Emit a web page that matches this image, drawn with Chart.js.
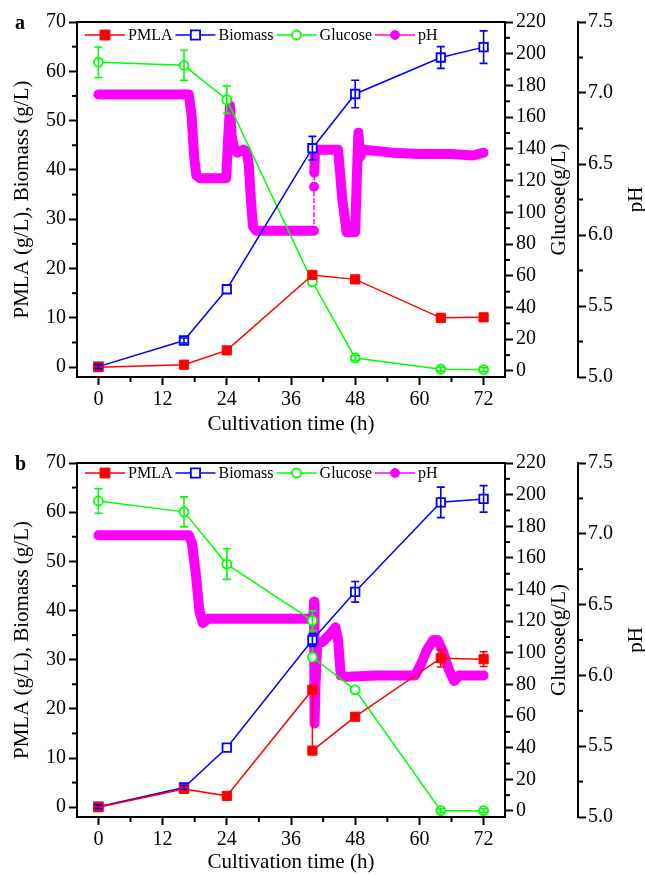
<!DOCTYPE html>
<html>
<head>
<meta charset="utf-8">
<script src="https://cdn.jsdelivr.net/npm/chart.js@4/dist/chart.umd.min.js"></script>
<style>
  body { margin: 0; background: #fff; }
  canvas { display: block; }
</style>
</head>
<body>
<canvas id="chartA" width="645" height="438"></canvas>
<canvas id="chartB" width="645" height="438"></canvas>
<script>
// axis ticks
const xTicks = [0, 12, 24, 36, 48, 60, 72];
const xMinor = [6, 18, 30, 42, 54, 66];
const leftTicks = [0, 10, 20, 30, 40, 50, 60, 70];
const leftMinor = [5, 15, 25, 35, 45, 55, 65];
const glucoseTicks = [0, 20, 40, 60, 80, 100, 120, 140, 160, 180, 200, 220];
const glucoseMinor = [10, 30, 50, 70, 90, 110, 130, 150, 170, 190, 210];
const phTicks = [5.0, 5.5, 6.0, 6.5, 7.0, 7.5];
const phMinor = [5.25, 5.75, 6.25, 6.75, 7.25];
const seriesNames = ['PMLA', 'Biomass', 'Glucose', 'pH'];

// panel a
const timeA = [0, 16, 24, 40, 48, 64, 72];
const pmlaA = [0, 0.5, 3.4, 18.7, 17.8, 10.0, 10.1];
const pmlaErrA = [0, 0, 0, 0, 0, 0, 0];
const biomassA = [0.1, 5.4, 15.8, 44.4, 55.4, 62.8, 64.9];
const biomassErrA = [0.4, 0.5, 0, 2.4, 2.8, 2.2, 3.3];
const glucoseA = [194.6, 192.7, 171.0, 56.2, 8.2, 1.1, 0.9];
const glucoseErrA = [9.6, 9.5, 8.6, 0, 1.5, 1.2, 1.2];
const phTimeA = [0, 16.9, 17.4, 17.9, 18.3, 19.0, 23.9, 24.2, 24.6, 24.9, 25.3, 26.0, 27.0, 27.7, 28.1, 28.5, 28.9, 29.5,
  35.0, 40.3, 40.3, 40.35, 40.35, 40.5, 44.8, 45.6, 46.4, 48.0, 48.3, 48.6, 48.9, 49.6, 55.0, 60.0, 66.0, 70.0, 72.0];
const phA = [6.99, 6.99, 6.85, 6.55, 6.42, 6.40, 6.40, 6.65, 6.91, 6.70, 6.62, 6.58, 6.60, 6.59, 6.50, 6.25, 6.06, 6.03,
  6.03, 6.03, 6.34, 6.34, 6.44, 6.60, 6.60, 6.25, 6.02, 6.02, 6.40, 6.72, 6.55, 6.60, 6.58, 6.57, 6.57, 6.56, 6.58];

// panel b
const pmlaTimeB = [0, 16, 24, 40, 40, 48, 64, 72];
const pmlaB = [0, 3.7, 2.3, 23.9, 11.5, 18.4, 30.3, 30.1];
const pmlaErrB = [0, 0.4, 0, 0, 0, 0, 1.8, 1.5];
const biomassTimeB = [0, 16, 24, 40, 48, 64, 72];
const biomassB = [0.1, 4.0, 12.1, 34.0, 43.8, 62.0, 62.7];
const biomassErrB = [0.4, 0.4, 0, 1.3, 2.1, 3.1, 2.7];
const glucoseTimeB = [0, 16, 24, 40, 40, 48, 64, 72];
const glucoseB = [196.0, 189.1, 156.1, 120.3, 97.2, 76.6, 0.2, 0.2];
const glucoseErrB = [7.8, 9.5, 9.7, 6.3, 0, 0, 1.2, 1.2];
const phTimeB = [0, 16.9, 17.5, 18.2, 18.9, 19.5, 20.5, 30.0, 40.2, 40.3, 40.35, 40.45, 40.6, 40.9, 42.0, 43.5, 44.3, 44.8,
  45.3, 46.5, 52.0, 59.2, 60.3, 61.4, 62.6, 63.4, 64.4, 65.5, 66.5, 67.4, 69.0, 72.0];
const phB = [6.99, 6.99, 6.93, 6.72, 6.45, 6.37, 6.40, 6.40, 6.40, 6.52, 6.28, 5.66, 5.95, 6.22, 6.24, 6.30, 6.34, 6.25,
  6.00, 5.99, 6.00, 6.00, 6.08, 6.18, 6.25, 6.25, 6.17, 6.04, 5.96, 6.00, 6.00, 6.00];

const FONT = '"Liberation Serif", "Times New Roman", serif';
Chart.defaults.font.family = FONT;
Chart.defaults.color = '#000';

const RED = '#FF0000', BLUE = '#0000FF', GREEN = '#00FF00', MAGENTA = '#FF00FF';

const toXY = (t, v) => t.map((x, i) => ({ x, y: v[i] }));
const setTicks = list => s => { s.ticks = list.map(value => ({ value })); };
const fixSize = (w, h) => s => {
  if (w !== null) s.width = w;
  if (h !== null) s.height = h;
  s.paddingTop = 0; s.paddingBottom = 0; s.paddingLeft = 0; s.paddingRight = 0;
};
const tickGrid = { drawOnChartArea: false, drawTicks: true, tickLength: 8, tickWidth: 2, tickColor: '#000' };
const axisBorder = { display: true, color: '#000', width: 2 };

function buildChart(id, p) {
  const minors = { x: xMinor, y: leftMinor, yG: glucoseMinor, yP: phMinor };

  const decor = {
    id: 'decor',
    afterDatasetsDraw(chart) {
      const ctx = chart.ctx;
      // error bars
      chart.data.datasets.forEach((ds, i) => {
        if (!ds.errors) return;
        const meta = chart.getDatasetMeta(i);
        const ys = chart.scales[meta.yAxisID];
        ctx.save();
        ctx.strokeStyle = ds.borderColor;
        ctx.lineWidth = 1.6;
        meta.data.forEach((pt, j) => {
          const e = ds.errors[j];
          if (!e) return;
          const v = ds.data[j].y;
          const t = ys.getPixelForValue(v + e), b = ys.getPixelForValue(v - e);
          ctx.beginPath();
          ctx.moveTo(pt.x, t); ctx.lineTo(pt.x, b);
          ctx.moveTo(pt.x - 4, t); ctx.lineTo(pt.x + 4, t);
          ctx.moveTo(pt.x - 4, b); ctx.lineTo(pt.x + 4, b);
          ctx.stroke();
        });
        ctx.restore();
      });
    },
    afterDraw(chart) {
      const ctx = chart.ctx, area = chart.chartArea;
      ctx.save();
      // frame
      ctx.strokeStyle = '#000';
      ctx.lineWidth = 2;
      ctx.strokeRect(area.left, area.top, area.right - area.left, area.bottom - area.top);
      // minor ticks
      Object.keys(minors).forEach(key => {
        const s = chart.scales[key];
        minors[key].forEach(v => {
          const px = s.getPixelForValue(v);
          ctx.beginPath();
          if (s.isHorizontal()) { ctx.moveTo(px, s.top); ctx.lineTo(px, s.top + 5); }
          else if (s.position === 'left') { ctx.moveTo(s.right, px); ctx.lineTo(s.right - 5, px); }
          else { ctx.moveTo(s.left, px); ctx.lineTo(s.left + 5, px); }
          ctx.stroke();
        });
      });
      // right axis titles, reading upward
      ctx.fillStyle = '#000';
      ctx.font = '21px ' + FONT;
      ctx.textAlign = 'center';
      ctx.textBaseline = 'middle';
      const midY = (area.top + area.bottom) / 2;
      [['yG', 'Glucose(g/L)', 54], ['yP', 'pH', 58]].forEach(([key, text, dx]) => {
        ctx.save();
        ctx.translate(chart.scales[key].left + dx, midY);
        ctx.rotate(-Math.PI / 2);
        ctx.fillText(text, 0, 0);
        ctx.restore();
      });
      // panel tag
      ctx.font = 'bold 20px ' + FONT;
      ctx.textAlign = 'left';
      ctx.textBaseline = 'alphabetic';
      ctx.fillText(p.tag, 15, area.top + 7);
      // legend inside the plot
      ctx.font = '16px ' + FONT;
      ctx.textBaseline = 'middle';
      let x = area.left + 8;
      const y = area.top + p.legendDy;
      chart.data.datasets.forEach(ds => {
        ctx.strokeStyle = ds.borderColor;
        ctx.lineWidth = 1.5;
        ctx.setLineDash([]);
        ctx.beginPath(); ctx.moveTo(x, y); ctx.lineTo(x + 40, y); ctx.stroke();
        ctx.fillStyle = ds.pointBackgroundColor;
        ctx.lineWidth = ds.pointBorderWidth || 1;
        Chart.helpers.drawPoint(ctx, { pointStyle: ds.pointStyle, radius: ds.legendRadius, borderWidth: 1 }, x + 20, y);
        x += 43;
        ctx.fillStyle = '#000';
        ctx.fillText(ds.label, x, y + 1);
        x += ctx.measureText(ds.label).width + 3;
      });
      ctx.restore();
    }
  };

  return new Chart(document.getElementById(id), {
    type: 'line',
    data: {
      datasets: [
        { label: seriesNames[0], data: toXY(p.pmlaTime, p.pmla), errors: p.pmlaErr, yAxisID: 'y',
          borderColor: RED, backgroundColor: RED, pointBackgroundColor: RED, pointBorderColor: RED,
          pointStyle: 'rect', pointRadius: 6.5, pointBorderWidth: 1, borderWidth: 1.5, legendRadius: 7 },
        { label: seriesNames[1], data: toXY(p.biomassTime, p.biomass), errors: p.biomassErr, yAxisID: 'y',
          borderColor: BLUE, backgroundColor: BLUE, pointBackgroundColor: '#fff', pointBorderColor: BLUE,
          pointStyle: 'rect', pointRadius: 6, pointBorderWidth: 1.8, borderWidth: 1.5, legendRadius: 6.5 },
        { label: seriesNames[2], data: toXY(p.glucoseTime, p.glucose), errors: p.glucoseErr, yAxisID: 'yG',
          borderColor: GREEN, backgroundColor: GREEN, pointBackgroundColor: '#fff', pointBorderColor: GREEN,
          pointStyle: 'circle', pointRadius: 4.5, pointBorderWidth: 1.8, borderWidth: 1.5, legendRadius: 4.5 },
        { label: seriesNames[3], data: toXY(p.phTime, p.ph), yAxisID: 'yP',
          borderColor: MAGENTA, backgroundColor: MAGENTA, pointBackgroundColor: MAGENTA,
          pointStyle: 'circle', pointRadius: 0, borderWidth: 10, legendRadius: 4.5,
          borderCapStyle: 'round', borderJoinStyle: 'round',
          segment: {
            borderWidth: c => c.p0.parsed.x === c.p1.parsed.x ? 1.5 : undefined,
            borderDash: c => c.p0.parsed.x === c.p1.parsed.x ? [4, 3] : undefined
          } }
      ]
    },
    options: {
      responsive: false,
      animation: false,
      devicePixelRatio: 1,
      layout: { padding: { top: p.padTop, left: 0, right: 0, bottom: 0 } },
      elements: { line: { tension: 0 } },
      plugins: { legend: { display: false }, tooltip: { enabled: false } },
      scales: {
        x: {
          type: 'linear', position: 'bottom', min: -4, max: 76,
          afterBuildTicks: setTicks(xTicks), afterFit: fixSize(null, p.axisHeight),
          grid: tickGrid, border: axisBorder,
          ticks: { font: { size: 20 }, padding: 3, maxRotation: 0, autoSkip: false },
          title: { display: true, text: 'Cultivation time (h)', font: { size: 21 }, padding: { top: 0, bottom: 1 } }
        },
        y: {
          type: 'linear', position: 'left', min: -2, max: 70,
          afterBuildTicks: setTicks(leftTicks), afterFit: fixSize(77, null),
          grid: tickGrid, border: axisBorder,
          ticks: { font: { size: 20 }, padding: 3 },
          title: { display: true, text: 'PMLA (g/L), Biomass (g/L)', font: { size: 21 }, padding: { top: 10, bottom: 0 } }
        },
        yG: {
          type: 'linear', position: 'right', min: -3.8, max: 220,
          afterBuildTicks: setTicks(glucoseTicks), afterFit: fixSize(73, null),
          grid: tickGrid, border: axisBorder,
          ticks: { font: { size: 20 }, padding: 3 }
        },
        yP: {
          type: 'linear', position: 'right', min: 5.0, max: 7.5,
          afterBuildTicks: setTicks(phTicks), afterFit: fixSize(67, null),
          grid: tickGrid, border: axisBorder,
          ticks: { font: { size: 20 }, padding: 2, callback: v => v.toFixed(1) }
        }
      }
    },
    plugins: [decor]
  });
}

buildChart('chartA', {
  tag: 'a', padTop: 22, axisHeight: 61, legendDy: 13,
  pmlaTime: timeA, pmla: pmlaA, pmlaErr: pmlaErrA,
  biomassTime: timeA, biomass: biomassA, biomassErr: biomassErrA,
  glucoseTime: timeA, glucose: glucoseA, glucoseErr: glucoseErrA,
  phTime: phTimeA, ph: phA
});

buildChart('chartB', {
  tag: 'b', padTop: 25, axisHeight: 59, legendDy: 10,
  pmlaTime: pmlaTimeB, pmla: pmlaB, pmlaErr: pmlaErrB,
  biomassTime: biomassTimeB, biomass: biomassB, biomassErr: biomassErrB,
  glucoseTime: glucoseTimeB, glucose: glucoseB, glucoseErr: glucoseErrB,
  phTime: phTimeB, ph: phB
});
</script>
</body>
</html>
